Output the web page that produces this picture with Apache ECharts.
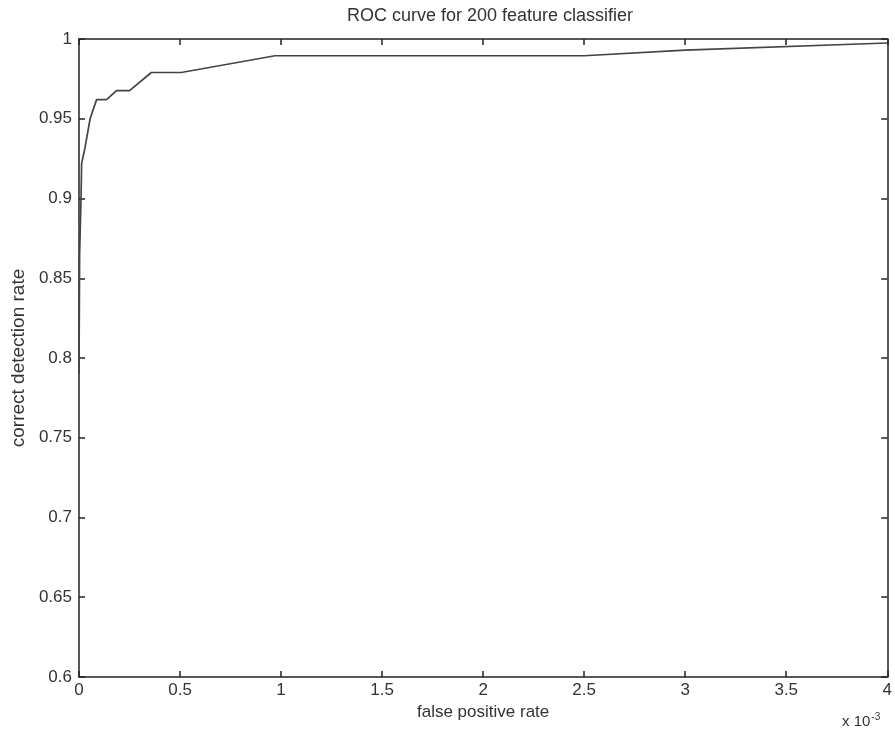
<!DOCTYPE html>
<html>
<head>
<meta charset="utf-8">
<script src="https://cdn.jsdelivr.net/npm/echarts@6/dist/echarts.min.js"></script>
<style>
html,body{margin:0;padding:0;background:#fff;}
#chart{width:895px;height:733px;}
</style>
</head>
<body>
<div id="chart"></div>
<script>
// false positive rate (x 10^-3)
var fpr = [0, 0.003, 0.006, 0.01, 0.013, 0.03, 0.055, 0.087, 0.136, 0.186, 0.25, 0.358, 0.506, 0.97, 2.5, 3.0, 4.0];
// correct detection rate
var tpr = [0.79, 0.865, 0.88, 0.9, 0.922, 0.932, 0.95, 0.962, 0.962, 0.9676, 0.9676, 0.979, 0.979, 0.9895, 0.9895, 0.993, 0.9975];
var xTicks = ['0','0.5','1','1.5','2','2.5','3','3.5','4'];
var yTicks = ['0.6','0.65','0.7','0.75','0.8','0.85','0.9','0.95','1'];

var data = fpr.map(function(x, i){ return [x, tpr[i]]; });
var font = 'Liberation Sans, Arial, sans-serif';
var axisLineStyle = {color:'#222', width:1.5};
var chart = echarts.init(document.getElementById('chart'), null, {renderer:'canvas'});
function common(pos, show, isX){
  return {
    type:'value', position:pos, min: isX?0:0.6, max: isX?4:1, interval: isX?0.5:0.05,
    axisLine:{show:true, onZero:false, lineStyle:axisLineStyle},
    axisTick:{show:true, inside:true, length:6, lineStyle:{color:'#222', width:1.5}},
    splitLine:{show:false},
    axisLabel:{show:show, color:'#333', fontFamily:font, fontSize:17, margin: isX?5:7,
      formatter:function(v){
        var arr = isX?xTicks:yTicks;
        var idx = Math.round(isX ? v/0.5 : (v-0.6)/0.05);
        return arr[idx];
      }}
  };
}
var xb = common('bottom', true, true);
xb.name = 'false positive rate'; xb.nameLocation='middle'; xb.nameGap=20;
xb.nameTextStyle = {color:'#333', fontFamily:font, fontSize:17};
var xt = common('top', false, true);
var yl = common('left', true, false);
yl.name = 'correct detection rate'; yl.nameLocation='middle'; yl.nameGap=50;
yl.nameTextStyle = {color:'#333', fontFamily:font, fontSize:19};
var yr = common('right', false, false);

chart.setOption({
  animation:false,
  backgroundColor:'#fff',
  title:{text:'ROC curve for 200 feature classifier', left:485, textAlign:'center', top:2,
    textStyle:{color:'#333', fontFamily:font, fontSize:18, fontWeight:'normal'}},
  grid:{left:79, right:4, top:39, bottom:56, containLabel:false},
  xAxis:[xb, xt],
  yAxis:[yl, yr],
  graphic:[{type:'text', left:842, top:712,
    style:{text:'x 10{s|-3}', rich:{s:{fontSize:10, verticalAlign:'top', padding:[0,0,10,1], fill:'#333', fontFamily:font}},
      fill:'#333', font:'15px Liberation Sans, Arial, sans-serif'}}],
  series:[{type:'line', data:data, xAxisIndex:0, yAxisIndex:0, showSymbol:false, symbol:'none',
    lineStyle:{color:'#444', width:1.7}, clip:true}]
});
</script>
</body>
</html>
